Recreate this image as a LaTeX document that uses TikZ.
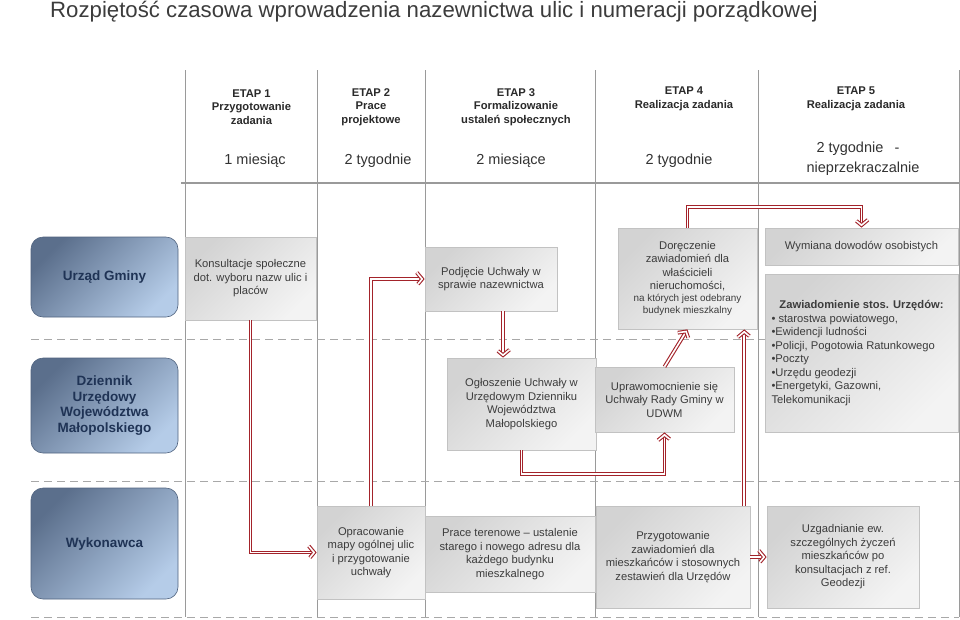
\documentclass[tikz,border=0pt]{standalone}
\usepackage{fontspec}
\setmainfont{Liberation Sans}
\usetikzlibrary{arrows.meta,calc,decorations.markings}
\definecolor{titlegray}{HTML}{3C3C3C}
\definecolor{hdrtext}{HTML}{2A2A2A}
\definecolor{durtext}{HTML}{333333}
\definecolor{sepgray}{HTML}{9A9A9A}
\definecolor{dashgray}{HTML}{A8A8A8}
\definecolor{lanedark}{HTML}{5B6F8C}
\definecolor{lanelight}{HTML}{B5CCE8}
\definecolor{laneborder}{HTML}{50637F}
\definecolor{lanetext}{HTML}{1F3355}
\definecolor{taskdark}{HTML}{D3D3D3}
\definecolor{tasklight}{HTML}{F3F3F3}
\definecolor{taskborder}{HTML}{C2C2C2}
\definecolor{tasktext}{HTML}{3C3C3C}
\definecolor{flowred}{HTML}{A3232A}
\newcommand{\taskfont}{\fontsize{11.2}{13.5}\selectfont}
\newcommand{\smallfnt}{\fontsize{9.9}{11.8}\selectfont}
\begin{document}
\begin{tikzpicture}[x=1pt,y=-1pt,
  lanebox/.style={draw=laneborder, line width=0.6pt, rounded corners=12pt,
    top color=lanedark, bottom color=lanelight, shading angle=45,
    text=lanetext, font=\fontsize{13.5}{15.8}\selectfont\bfseries,
    align=center, minimum width=147pt, inner sep=2pt},
  task/.style={draw=taskborder, line width=0.5pt,
    top color=taskdark, bottom color=tasklight, shading angle=45,
    text=tasktext, font=\taskfont, align=center, inner xsep=3pt, inner ysep=2pt},
  hdr/.style={font=\fontsize{11.2}{13.5}\selectfont\bfseries, text=hdrtext, align=center, inner sep=0pt},
  dur/.style={font=\fontsize{14.5}{18}\selectfont, text=durtext, inner sep=0pt},
  colsep/.style={draw=sepgray, line width=1pt},
  lanesep/.style={draw=dashgray, line width=1pt, dash pattern=on 8pt off 5pt},
  dbl/.style={draw=flowred, line width=1.1pt, double=white, double distance=1.6pt},
  flow/.style={dbl, shorten >=1.8pt, postaction={decorate},
    decoration={markings, mark=at position 1 with {
      \draw[dbl, line join=miter] (-8,-6.5) -- (-2.6,0) -- (-8,6.5);}}},
]
\useasboundingbox (0,0) rectangle (960,619);
\fill[white] (0,0) rectangle (960,619);

% title
\node[anchor=base west, font=\fontsize{22.2}{26}\selectfont, text=titlegray, inner sep=0pt] (title) at (50,17.5)
  {Rozpiętość czasowa wprowadzenia nazewnictwa ulic i numeracji porządkowej};

% grid lines
\foreach \xx in {185.5,317,425.5,595.5,758,959}
  \draw[colsep] (\xx,70) -- (\xx,617);
\draw[draw=sepgray, line width=1.6pt] (181,183) -- (959,183);
\draw[lanesep] (31,339) -- (959,339);
\draw[lanesep] (31,481) -- (959,481);
\draw[lanesep] (31,617) -- (959,617);

% header
\node[hdr] (e1) at (251.5,107) {ETAP 1\\Przygotowanie\\zadania};
\node[hdr] (e2) at (371,107) {ETAP 2\\Prace\\projektowe};
\node[hdr] (e3) at (516,107) {ETAP 3\\Formalizowanie\\ustaleń społecznych};
\node[hdr] (e4) at (684,99) {ETAP 4\\Realizacja zadania};
\node[hdr] (e5) at (856,99) {ETAP 5\\Realizacja zadania};

\node[dur, anchor=base] (d1) at (255,164.5) {1 miesiąc};
\node[dur, anchor=base] (d2) at (378,164.5) {2 tygodnie};
\node[dur, anchor=base] (d3) at (511,164.5) {2 miesiące};
\node[dur, anchor=base] (d4) at (679,164.5) {2 tygodnie};
\node[dur, anchor=base] (d5a) at (858,152) {2 tygodnie\enspace\ -};
\node[dur, anchor=base] (d5b) at (863,172) {nieprzekraczalnie};

% lanes
\node[lanebox, minimum height=80pt] (ug) at (104.5,277) {Urząd Gminy};
\node[lanebox, minimum height=95pt] (du) at (104.5,405.5) {Dziennik\\Urzędowy\\Województwa\\Małopolskiego};
\node[lanebox, minimum height=111pt] (wyk) at (104.5,543.5) {Wykonawca};

% tasks
\node[task, minimum width=131pt, minimum height=83pt] (kons) at (250.5,278.5)
  {Konsultacje społeczne\\dot. wyboru nazw ulic i\\placów};
\node[task, minimum width=132pt, minimum height=64pt] (podj) at (491,279)
  {Podjęcie Uchwały w\\sprawie nazewnictwa};
\node[task, minimum width=149pt, minimum height=92pt] (ogl) at (521.5,404)
  {Ogłoszenie Uchwały w\\Urzędowym Dzienniku\\Województwa\\Małopolskiego};
\node[task, minimum width=139pt, minimum height=101pt] (dor) at (687.5,278.5)
  {Doręczenie\\zawiadomień dla\\właścicieli\\nieruchomości,\\[-1.5pt]
   \smallfnt na których jest odebrany\\[-1.7pt]\smallfnt budynek mieszkalny};
\node[task, minimum width=139pt, minimum height=65pt] (upr) at (664.5,399.5)
  {Uprawomocnienie się\\Uchwały Rady Gminy w\\UDWM};
\node[task, minimum width=193pt, minimum height=37pt] (wym) at (861.5,246.5)
  {Wymiana dowodów osobistych};
\node[task, minimum width=193pt, minimum height=158pt, inner xsep=6.5pt] (zaw) at (861.5,353)
  {\parbox{180pt}{\centering\bfseries Zawiadomienie stos. Urzędów:\par
   \raggedright\mdseries • starostwa powiatowego,\\•Ewidencji ludności\\•Policji, Pogotowia Ratunkowego\\•Poczty\\•Urzędu geodezji\\•Energetyki, Gazowni,\\Telekomunikacji}};
\node[task, minimum width=108pt, minimum height=93pt] (opr) at (371,552.5)
  {Opracowanie\\mapy ogólnej ulic\\i przygotowanie\\uchwały};
\node[task, minimum width=170pt, minimum height=76pt] (prt) at (510,554)
  {Prace terenowe – ustalenie\\starego i nowego adresu dla\\każdego budynku\\mieszkalnego};
\node[task, minimum width=154pt, minimum height=102pt] (prz) at (673,557)
  {Przygotowanie\\zawiadomień dla\\mieszkańców i stosownych\\zestawień dla Urzędów};
\node[task, minimum width=152pt, minimum height=102pt] (uzg) at (843,557)
  {Uzgadnianie ew.\\szczególnych życzeń\\mieszkańców po\\konsultacjach z ref.\\Geodezji};

% connectors
\draw[flow] (kons.south) |- (opr.west);
\draw[flow] (opr.north) |- (podj.west);
\coordinate (c1) at ($(podj.south)+(12,0)$);
\draw[flow] (c1) -- (c1 |- ogl.north);
\draw[flow] (ogl.south) -- ++(0,24) -| (upr.south);
\draw[flow] (upr.north) -- (dor.south);
\coordinate (f1) at ($(prz.north east)+(-6,0)$);
\draw[flow] (f1) -- (f1 |- dor.south);
\draw[flow] (prz.east) -- (uzg.west);
\draw[flow] (dor.north) -- ++(0,-21) -| (wym.north);
\end{tikzpicture}
\end{document}
